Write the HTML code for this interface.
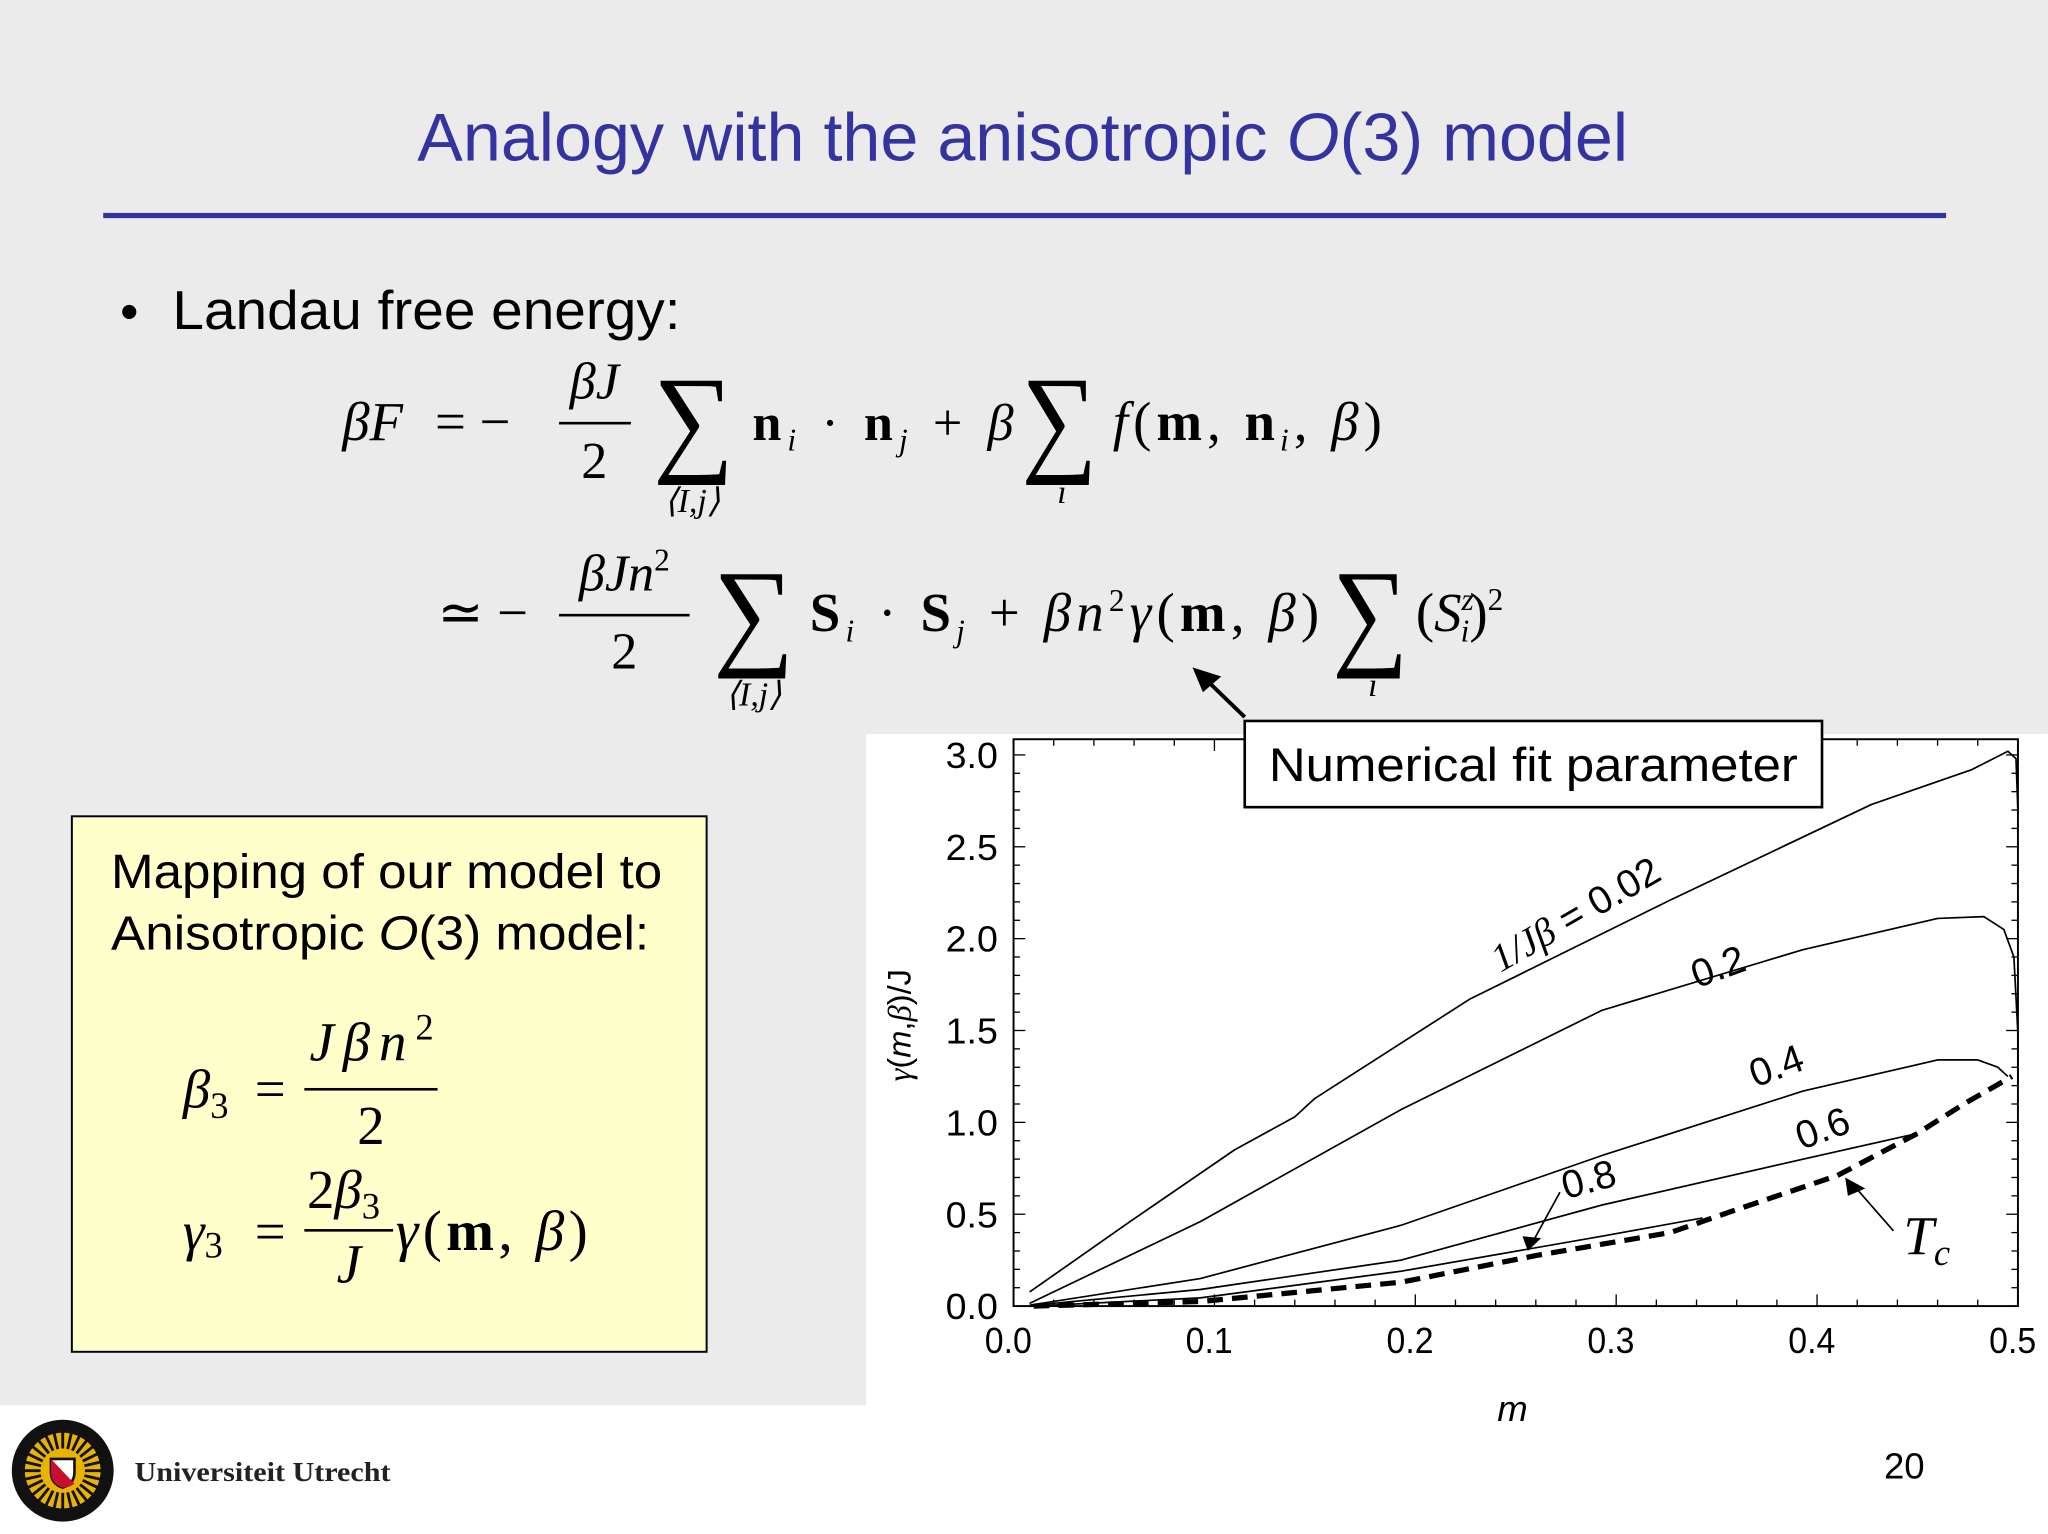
<!DOCTYPE html>
<html><head><meta charset="utf-8"><style>
html,body{margin:0;padding:0;background:#ebebeb;}
svg{display:block;}
.serif{font-family:"Liberation Serif",serif;}
.sans{font-family:"Liberation Sans",sans-serif;}
</style></head><body>
<svg id="slide" width="2048" height="1534" viewBox="0 0 1568 1174.5" xmlns="http://www.w3.org/2000/svg">
<rect x="0" y="0" width="1568" height="1175" fill="#ebebeb"/>
<rect x="663" y="562" width="905" height="520" fill="#ffffff"/>
<rect x="0" y="1076" width="1568" height="100" fill="#ffffff"/>

<text x="783" y="123" text-anchor="middle" class="sans" font-size="52" fill="#3434a0" textLength="927" lengthAdjust="spacingAndGlyphs">Analogy with the anisotropic <tspan font-style="italic">O</tspan>(3) model</text>
<rect x="79" y="163" width="1411" height="4" fill="#3434a0"/>

<text x="92" y="252" class="sans" font-size="40" fill="#000">•</text>
<text x="132" y="252" class="sans" font-size="42" fill="#000" textLength="389" lengthAdjust="spacingAndGlyphs">Landau free energy:</text>

<g class="serif" fill="#000">
<text x="262" y="337" font-size="42" font-style="italic">βF</text>
<text x="333" y="337" font-size="42">= −</text>
<text x="455" y="305" font-size="40" font-style="italic" text-anchor="middle">βJ</text>
<rect x="428" y="323" width="55" height="2"/>
<text x="455" y="366" font-size="40" text-anchor="middle">2</text>
<text x="500" y="352" font-size="92" textLength="62" lengthAdjust="spacingAndGlyphs">∑</text>
<text x="530" y="392" font-size="26" font-style="italic" text-anchor="middle">⟨I,j⟩</text>
<text x="576" y="337" font-size="40" font-weight="bold" textLength="200" lengthAdjust="spacing">n<tspan font-size="24" font-weight="normal" font-style="italic" dy="8">i</tspan><tspan dy="-8" font-weight="normal"> · </tspan>n<tspan font-size="24" font-weight="normal" font-style="italic" dy="8">j</tspan><tspan dy="-8" font-weight="normal"> + </tspan><tspan font-style="italic" font-weight="normal">β</tspan></text>
<text x="782" y="352" font-size="92" textLength="58" lengthAdjust="spacingAndGlyphs">∑</text>
<text x="813" y="385" font-size="26" font-style="italic" text-anchor="middle">i</text>
<text x="852" y="337" font-size="42" textLength="206" lengthAdjust="spacing"><tspan font-style="italic">f</tspan>(<tspan font-weight="bold">m</tspan>, <tspan font-weight="bold">n</tspan><tspan font-size="24" font-style="italic" dy="8">i</tspan><tspan dy="-8">, </tspan><tspan font-style="italic">β</tspan>)</text>
</g>

<g class="serif" fill="#000">
<text x="335" y="483" font-size="42">≃ −</text>
<text x="478" y="452" font-size="40" font-style="italic" text-anchor="middle">βJn<tspan font-size="24" font-style="normal" dy="-15">2</tspan></text>
<rect x="428" y="470" width="100" height="2"/>
<text x="478" y="512" font-size="40" text-anchor="middle">2</text>
<text x="546" y="500" font-size="92" textLength="62" lengthAdjust="spacingAndGlyphs">∑</text>
<text x="577" y="540" font-size="26" font-style="italic" text-anchor="middle">⟨I,j⟩</text>
<text x="620" y="483" font-size="42" textLength="390" lengthAdjust="spacing"><tspan font-weight="bold">S</tspan><tspan font-size="24" font-style="italic" dy="8">i</tspan><tspan dy="-8"> · </tspan><tspan font-weight="bold">S</tspan><tspan font-size="24" font-style="italic" dy="8">j</tspan><tspan dy="-8"> + </tspan><tspan font-style="italic">βn</tspan><tspan font-size="24" dy="-15">2</tspan><tspan dy="15" font-style="italic">γ</tspan>(<tspan font-weight="bold">m</tspan>, <tspan font-style="italic">β</tspan>)</text>
<text x="1020" y="500" font-size="92" textLength="58" lengthAdjust="spacingAndGlyphs">∑</text>
<text x="1051" y="533" font-size="26" font-style="italic" text-anchor="middle">i</text>
<text x="1084" y="483" font-size="42">(<tspan font-style="italic">S</tspan><tspan font-size="24" font-style="italic" dy="-16">z</tspan><tspan font-size="24" font-style="italic" dx="-10" dy="24">i</tspan><tspan dy="-8">)</tspan><tspan font-size="24" dy="-16">2</tspan></text>
</g>

<g>
<rect x="55" y="625" width="486" height="410" fill="#ffffcc" stroke="#000" stroke-width="1.5"/>
<text x="85" y="680" class="sans" font-size="37" textLength="422" lengthAdjust="spacingAndGlyphs">Mapping of our model to</text>
<text x="85" y="727" class="sans" font-size="37" textLength="412" lengthAdjust="spacingAndGlyphs">Anisotropic <tspan font-style="italic">O</tspan>(3) model:</text>
<g class="serif" fill="#000">
<text x="140" y="848" font-size="42" font-style="italic">β<tspan font-size="28" font-style="normal" dy="8">3</tspan></text>
<text x="195" y="848" font-size="42">=</text>
<text x="237" y="812" font-size="42" font-style="italic" textLength="95" lengthAdjust="spacing">Jβn<tspan font-size="28" font-style="normal" dy="-16">2</tspan></text>
<rect x="233" y="833" width="102" height="2"/>
<text x="284" y="876" font-size="42" text-anchor="middle">2</text>
<text x="140" y="957" font-size="42" font-style="italic">γ<tspan font-size="28" font-style="normal" dy="6">3</tspan></text>
<text x="195" y="957" font-size="42">=</text>
<text x="235" y="925" font-size="42">2<tspan font-style="italic">β</tspan><tspan font-size="28" dy="8">3</tspan></text>
<rect x="233" y="941" width="68" height="2"/>
<text x="267" y="982" font-size="42" font-style="italic" text-anchor="middle">J</text>
<text x="303" y="957" font-size="44" textLength="147" lengthAdjust="spacing"><tspan font-style="italic">γ</tspan>(<tspan font-weight="bold">m</tspan>, <tspan font-style="italic">β</tspan>)</text>
</g>
</g>

<g id="chart"></g>

<g>
<rect x="953" y="552" width="442" height="66" fill="#fff" stroke="#000" stroke-width="2"/>
<text x="1174" y="598" text-anchor="middle" class="sans" font-size="36" textLength="405" lengthAdjust="spacingAndGlyphs">Numerical fit parameter</text>
<line x1="953" y1="549" x2="922" y2="519" stroke="#000" stroke-width="3"/>
<polygon points="913,511 935,518 921,530" fill="#000"/>
</g>

<g id="logo">
<circle cx="48" cy="1126" r="39" fill="#111"/>
<circle cx="48" cy="1126" r="29" fill="#e8b400"/>
</g>
<text x="103" y="1134" class="serif" font-size="21" font-weight="bold" fill="#222" textLength="196" lengthAdjust="spacingAndGlyphs">Universiteit Utrecht</text>
<text x="1458" y="1132" text-anchor="middle" class="sans" font-size="28">20</text>
</svg>
<script>
const xTickLabels=["0.0","0.1","0.2","0.3","0.4","0.5"];
const yTickLabels=["0.0","0.5","1.0","1.5","2.0","2.5","3.0"];
const m002=[0.008,0.058,0.11,0.14,0.15,0.227,0.327,0.427,0.477,0.495,0.499,0.5];
const g002=[0.077,0.46,0.85,1.03,1.13,1.67,2.21,2.73,2.92,3.02,2.98,2.69];
const m02=[0.008,0.093,0.193,0.293,0.393,0.46,0.483,0.493,0.498,0.5,0.5];
const g02=[0.015,0.46,1.07,1.61,1.94,2.11,2.12,2.05,1.9,1.48,1.21];
const m04=[0.008,0.093,0.193,0.293,0.393,0.46,0.48,0.49,0.495];
const g04=[0.005,0.15,0.44,0.82,1.17,1.34,1.34,1.3,1.25];
const m06=[0.01,0.093,0.193,0.293,0.393,0.45];
const g06=[0.005,0.09,0.25,0.55,0.8,0.94];
const m08=[0.01,0.093,0.193,0.293,0.343];
const g08=[0,0.045,0.19,0.38,0.48];
const mTc=[0.01,0.093,0.193,0.26,0.327,0.36,0.41,0.45,0.473,0.497];
const gTc=[0,0.025,0.13,0.275,0.4,0.525,0.71,0.94,1.1,1.25];

const NS="http://www.w3.org/2000/svg";
const X0=776,X1=1545,Y0=1000,Y3=578,YT=566;
function sx(m){return X0+m/0.5*(X1-X0);}
function sy(v){return Y0-v/3*(Y0-Y3);}
const chart=document.getElementById('chart');
function mk(tag,attrs,parent){const e=document.createElementNS(NS,tag);for(const k in attrs)e.setAttribute(k,attrs[k]);(parent||chart).appendChild(e);return e;}

// logo rays
const logo=document.getElementById('logo');
for(let i=0;i<28;i++){const a=i/28*2*Math.PI;
 const r=mk('line',{x1:48+17*Math.cos(a),y1:1126+17*Math.sin(a),x2:48+36*Math.cos(a),y2:1126+36*Math.sin(a),stroke:'#111','stroke-width':2.2},logo);
 
 }
const shield=mk('path',{d:'M39,1117 h18 v10 q0,9 -9,12 q-9,-3 -9,-12z',fill:'#fff',stroke:'#111','stroke-width':2},logo);


const shieldRed=mk('path',{d:'M39,1117 L57,1136 q-4,3 -9,3 q-9,-3 -9,-12z',fill:'#c8102e'},logo);



const frame=mk('rect',{x:X0,y:YT,width:X1-X0,height:Y0-YT,fill:'none',stroke:'#000','stroke-width':1.5});



for(let i=0;i<=25;i++){const m=i*0.02;const x=sx(m);const L=(i%5===0)?9:5;
 const t1=mk('line',{x1:x,y1:Y0,x2:x,y2:Y0-L,stroke:'#000','stroke-width':1});
 
 
 const t2=mk('line',{x1:x,y1:YT,x2:x,y2:YT+L,stroke:'#000','stroke-width':1});
 
 }
for(let i=0;i<=30;i++){const v=i*0.1;const y=sy(v);const L=(i%5===0)?9:5;
 const t1=mk('line',{x1:X0,y1:y,x2:X0+L,y2:y,stroke:'#000','stroke-width':1});
 
 
 const t2=mk('line',{x1:X1,y1:y,x2:X1-L,y2:y,stroke:'#000','stroke-width':1});
 
 }
xTickLabels.forEach((s,i)=>{const t=mk('text',{x:sx(i*0.1)-4,y:Y0+36,'text-anchor':'middle','font-family':'Liberation Sans,sans-serif','font-size':28,transform:'','textLength':36,'lengthAdjust':'spacingAndGlyphs'});t.textContent=s;
 
 });
yTickLabels.forEach((s,i)=>{const t=mk('text',{x:X0-12,y:sy(i*0.5)+10,'text-anchor':'end','font-family':'Liberation Sans,sans-serif','font-size':28,'textLength':40,'lengthAdjust':'spacingAndGlyphs'});t.textContent=s;
 
 });
const xt=mk('text',{x:1158,y:1088,'text-anchor':'middle','font-family':'Liberation Sans,sans-serif','font-size':28,'font-style':'italic'});xt.textContent='m';


const yt=mk('text',{x:0,y:0,'text-anchor':'middle','font-family':'Liberation Sans,sans-serif','font-size':25,transform:'translate(697,785) rotate(-90)'});
yt.innerHTML='<tspan font-family="Liberation Serif,serif" font-style="italic">γ</tspan>(<tspan font-style="italic">m</tspan>,<tspan font-family="Liberation Serif,serif" font-style="italic">β</tspan>)/J';



function path(ms,gs){return ms.map((m,i)=>(i?'L':'M')+sx(m).toFixed(1)+','+sy(gs[i]).toFixed(1)).join(' ');}
[[m002,g002,'curve-0.02'],[m02,g02,'curve-0.2'],[m04,g04,'curve-0.4'],[m06,g06,'curve-0.6'],[m08,g08,'curve-0.8']].forEach(c=>{
 const p=mk('path',{d:path(c[0],c[1]),fill:'none',stroke:'#000','stroke-width':1.3,'stroke-linejoin':'round'});
 
 });
const tc=mk('path',{d:path(mTc,gTc),fill:'none',stroke:'#000','stroke-width':4,'stroke-dasharray':'12,7'});



function lbl(txt,m,v,rot,name,html){const t=mk('text',{x:0,y:0,'text-anchor':'middle','font-family':'Liberation Sans,sans-serif','font-size':30,transform:`translate(${sx(m)},${sy(v)}) rotate(${rot})`});
 if(html)t.innerHTML=html;else t.textContent=txt;
 
 }
lbl('',0.283,2.07,-30,'label-0.02','<tspan font-family="Liberation Serif,serif" font-style="italic">1/Jβ</tspan> = 0.02');
lbl('0.2',0.353,1.78,-20,'label-0.2');
lbl('0.4',0.382,1.24,-20,'label-0.4');
lbl('0.6',0.405,0.9,-20,'label-0.6');
lbl('0.8',0.288,0.62,-15,'label-0.8');
const tcl=mk('text',{x:sx(0.443),y:sy(0.28),'font-family':'Liberation Serif,serif','font-size':42,'font-style':'italic'});
tcl.innerHTML='T<tspan font-size="28" dy="8">c</tspan>';


const a1=mk('line',{x1:sx(0.272),y1:sy(0.62),x2:sx(0.258),y2:sy(0.34),stroke:'#000','stroke-width':1.3});


const a1h=mk('polygon',{points:`${sx(0.256)},${sy(0.3)} ${sx(0.254)-1},${sy(0.38)} ${sx(0.262)+1},${sy(0.37)}`,fill:'#000'});


const a2=mk('line',{x1:sx(0.438),y1:sy(0.41),x2:sx(0.418),y2:sy(0.66),stroke:'#000','stroke-width':1.3});


const a2h=mk('polygon',{points:`${sx(0.414)},${sy(0.7)} ${sx(0.416)-1},${sy(0.6)} ${sx(0.424)},${sy(0.64)}`,fill:'#000'});


</script>
</body></html>
